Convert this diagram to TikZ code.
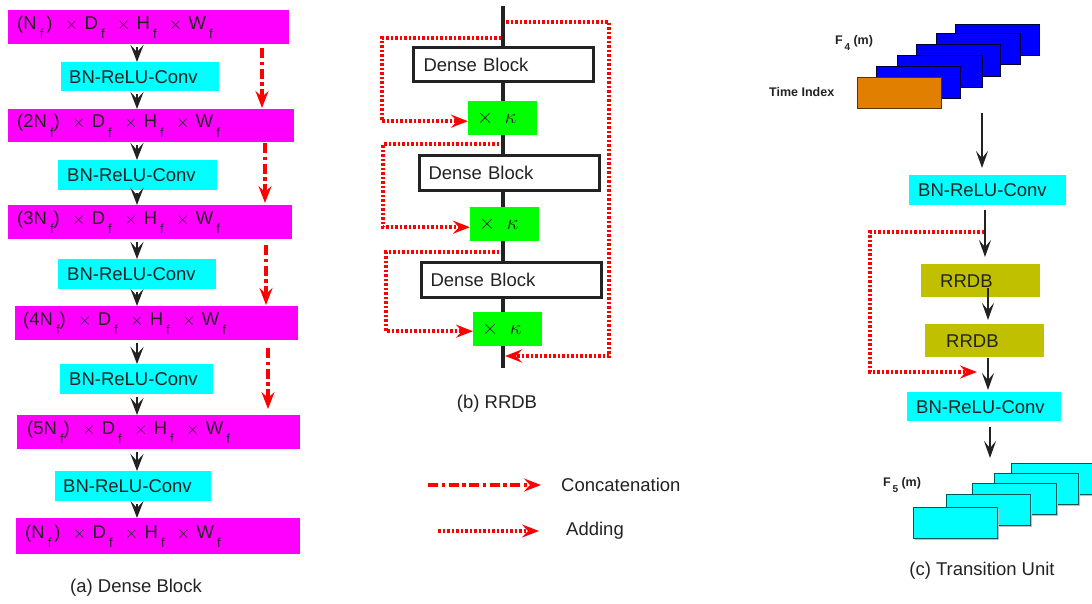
\documentclass[tikz,border=0pt]{standalone}
\usepackage{fontspec}
\setmainfont{Liberation Sans}
\usetikzlibrary{arrows.meta}
\definecolor{txt}{HTML}{222222}
\definecolor{mag}{HTML}{FF00FF}
\definecolor{cya}{HTML}{00FFFF}
\definecolor{grn}{HTML}{00FF00}
\definecolor{oli}{HTML}{C0C000}
\definecolor{blu}{HTML}{0000FF}
\definecolor{ora}{HTML}{E07F00}
\newcommand{\sbf}{\raisebox{-0.5em}{\fontsize{13}{13}\selectfont f}}
\newcommand{\dims}[1]{(#1\,\sbf)~~$\times$~D\,\sbf~~$\times$~H\,\sbf~~$\times$~W\,\sbf}
\newcommand{\dimsb}[1]{(#1\,\sbf\,)~~$\times$~D\,\sbf~~$\times$~H\,\sbf~~$\times$~W\,\sbf}
\begin{document}
\begin{tikzpicture}[x=1pt,y=-1pt,
  every node/.style={font=\fontsize{18.5}{20}\selectfont, text=txt, inner ysep=0pt},
  boxbase/.style={anchor=north west, align=left, inner ysep=0pt},
  magbox/.style={boxbase, fill=mag},
  cybox/.style={boxbase, fill=cya},
  grbox/.style={boxbase, fill=grn},
  olbox/.style={boxbase, fill=oli},
  dbbox/.style={boxbase, fill=white, draw=txt, line width=3pt},
  arr/.style={draw=txt, line width=2.4pt, -{Stealth[length=17pt,width=13pt,inset=7pt]}},
  thinarr/.style={draw=txt, line width=2pt, -{Stealth[length=17pt,width=12pt,inset=7pt]}},
  concat/.style={draw=red, line width=3.5pt, dash pattern=on 10pt off 3.5pt on 3.5pt off 3.5pt, -{Stealth[length=17pt,width=13pt,inset=6pt]}},
  addarr/.style={draw=red, line width=3.5pt, dash pattern=on 2.5pt off 2pt, -{Stealth[length=17pt,width=13pt,inset=6pt]}},
  spine/.style={draw=txt, line width=3.2pt},
  lbl/.style={font=\bfseries\fontsize{12.5}{13}\selectfont, anchor=west, inner sep=0pt},
  kap/.style={font=\fontsize{20}{22}\selectfont},
  capt/.style={font=\fontsize{18.5}{20}\selectfont}
]
\useasboundingbox (0,0) rectangle (1092,603);

% ---------------- (a) Dense Block ----------------
\node[magbox, minimum height=34pt, inner xsep=9pt, text width=263pt] (m1) at (8,10) {\dimsb{N}};
\node[cybox, minimum height=29pt, inner xsep=8pt, text width=142pt] (c1) at (61,62) {BN-ReLU-Conv};
\node[magbox, minimum height=33pt, inner xsep=9pt, text width=268pt] (m2) at (8,109) {\dims{2N}};
\node[cybox, minimum height=30pt, inner xsep=9pt, text width=141pt] (c2) at (58,160) {BN-ReLU-Conv};
\node[magbox, minimum height=34pt, inner xsep=9pt, text width=266pt] (m3) at (8,205) {\dims{3N}};
\node[cybox, minimum height=30pt, inner xsep=9pt, text width=140pt] (c3) at (58,259) {BN-ReLU-Conv};
\node[magbox, minimum height=34pt, inner xsep=8pt, text width=267pt] (m4) at (15,306) {\dims{4N}};
\node[cybox, minimum height=30pt, inner xsep=9pt, text width=135pt] (c4) at (60,364) {BN-ReLU-Conv};
\node[magbox, minimum height=34pt, inner xsep=10pt, text width=263pt] (m5) at (17,415) {\dims{5N}};
\node[cybox, minimum height=30pt, inner xsep=8pt, text width=140pt] (c5) at (55,471) {BN-ReLU-Conv};
\node[magbox, minimum height=36pt, inner xsep=9pt, text width=266pt] (m6) at (16,518) {\dimsb{N}};

\coordinate (ax) at (137,0);
\draw[arr, shorten <=3pt] (ax |- m1.south) -- (ax |- c1.north);
\draw[arr, shorten <=3pt] (ax |- c1.south) -- (ax |- m2.north);
\draw[arr, shorten <=3pt] (ax |- m2.south) -- (ax |- c2.north);
\draw[arr, shorten <=3pt] (ax |- c2.south) -- (ax |- m3.north);
\draw[arr, shorten <=3pt] (ax |- m3.south) -- (ax |- c3.north);
\draw[arr, shorten <=3pt] (ax |- c3.south) -- (ax |- m4.north);
\draw[arr, shorten <=3pt] (ax |- m4.south) -- (ax |- c4.north);
\draw[arr, shorten <=3pt] (ax |- c4.south) -- (ax |- m5.north);
\draw[arr, shorten <=3pt] (ax |- m5.south) -- (ax |- c5.north);
\draw[arr, shorten <=3pt] (ax |- c5.south) -- (ax |- m6.north);

\coordinate (r1) at (262,0);
\coordinate (r2) at (265,0);
\coordinate (r3) at (266,0);
\coordinate (r4) at (268,0);
\draw[concat, shorten <=4pt, shorten >=1pt] (r1 |- m1.south) -- (r1 |- m2.north);
\draw[concat, shorten <=1pt, shorten >=2pt] (r2 |- m2.south) -- (r2 |- m3.north);
\draw[concat, shorten <=6pt, shorten >=1pt] (r3 |- m3.south) -- (r3 |- m4.north);
\draw[concat, shorten <=8pt, shorten >=6pt] (r4 |- m4.south) -- (r4 |- m5.north);

\node[capt] (capa) at (136,588) {(a) Dense Block};

% ---------------- (b) RRDB ----------------
\node[dbbox, minimum height=34pt, inner xsep=10pt, text width=160pt] (d1) at (412,46) {Dense Block};
\node[grbox, kap, minimum height=34pt, inner xsep=9pt, text width=51pt] (g1) at (468,101) {$\times\;\;\kappa$};
\node[dbbox, minimum height=35pt, inner xsep=9pt, text width=162pt] (d2) at (418,154) {Dense Block};
\node[grbox, kap, minimum height=34pt, inner xsep=9pt, text width=51pt] (g2) at (470,207) {$\times\;\;\kappa$};
\node[dbbox, minimum height=35pt, inner xsep=9pt, text width=162pt] (d3) at (420,261) {Dense Block};
\node[grbox, kap, minimum height=34pt, inner xsep=9pt, text width=51pt] (g3) at (473,312) {$\times\;\;\kappa$};

\coordinate (sx) at (503,0);
\coordinate (stop) at (503,6);
\coordinate (sbot) at (503,368);
\draw[spine] (stop) -- (sx |- d1.north);
\draw[spine] (sx |- d1.south) -- (sx |- g1.north);
\draw[spine] (sx |- g1.south) -- (sx |- d2.north);
\draw[spine] (sx |- d2.south) -- (sx |- g2.north);
\draw[spine] (sx |- g2.south) -- (sx |- d3.north);
\draw[spine] (sx |- d3.south) -- (sx |- g3.north);
\draw[spine] (sx |- g3.south) -- (sbot);

\coordinate (t1) at (501,38);
\coordinate (k1) at (382,0);
\draw[addarr] (t1) -| ([yshift=-3pt]k1 |- g1.west) -- ([yshift=-3pt]g1.west);
\coordinate (t2) at (499,144);
\coordinate (k2) at (383,0);
\draw[addarr] (t2) -| ([yshift=-3pt]k2 |- g2.west) -- ([yshift=-3pt]g2.west);
\coordinate (t3) at (499,252);
\coordinate (k3) at (386,0);
\draw[addarr] (t3) -| ([yshift=-2pt]k3 |- g3.west) -- ([yshift=-2pt]g3.west);
\coordinate (t0) at (506,22);
\coordinate (k0) at (609,0);
\coordinate (e0) at (505,356);
\draw[addarr] (t0) -| (k0 |- e0) -- (e0);

\node[capt] (capb) at (497,404) {(b) RRDB};

% legend
\node[anchor=west, inner sep=0pt] (lcat) at (561,485) {Concatenation};
\node[anchor=west, inner sep=0pt] (ladd) at (566,531) {Adding};
\coordinate (lc) at (428,485);
\coordinate (la) at (438,531);
\draw[concat, shorten >=20pt] (lc) -- (lcat.west);
\draw[addarr, shorten >=27pt] (la) -- (ladd.west);

% ---------------- (c) Transition Unit ----------------
\begin{scope}[draw=black!80!blue, line width=0.9pt]
\filldraw[fill=blu] (955,24) rectangle (1039,55);
\filldraw[fill=blu] (936,33) rectangle (1020,64);
\filldraw[fill=blu] (916,44) rectangle (1000,76);
\filldraw[fill=blu] (897,55) rectangle (982,87);
\filldraw[fill=blu] (876,66) rectangle (960,98);
\end{scope}
\filldraw[fill=ora, draw=ora!40!black, line width=1pt] (857,77) rectangle (941,108);

\node[lbl] (f4) at (835,43) {F\raisebox{-0.45em}{\fontsize{10}{10}\selectfont\,4}~(m)};
\node[lbl] (ti) at (769,92) {Time Index};

\node[cybox, minimum height=30pt, inner xsep=9pt, text width=139pt] (tc1) at (909,175) {BN-ReLU-Conv};
\node[olbox, minimum height=33pt, inner xsep=19pt, text width=81pt] (rr1) at (921,264) {RRDB};
\node[olbox, minimum height=33pt, inner xsep=21pt, text width=77pt] (rr2) at (925,324) {RRDB};
\node[cybox, minimum height=29pt, inner xsep=9pt, text width=136pt] (tc2) at (907,392) {BN-ReLU-Conv};

\coordinate (in1) at (982,113);
\draw[thinarr, shorten >=7pt] (in1) -- (in1 |- tc1.north);
\coordinate (x2) at (985,0);
\draw[thinarr, shorten <=5pt, shorten >=7pt] (x2 |- tc1.south) -- (x2 |- rr1.north);
\coordinate (x3) at (988,0);
\draw[thinarr, shorten <=-9pt, shorten >=4pt] (x3 |- rr1.south) -- (x3 |- rr2.north);
\draw[thinarr, shorten <=1pt, shorten >=2pt] (x3 |- rr2.south) -- (x3 |- tc2.north);
\coordinate (x5) at (990,0);
\coordinate (out5) at (990,458);
\draw[thinarr, shorten <=6pt] (x5 |- tc2.south) -- (out5);

\coordinate (q1) at (984,232);
\coordinate (q2) at (870,372);
\coordinate (q3) at (977,372);
\draw[addarr] (q1) -| (q2) -- (q3);

\begin{scope}[line width=0.9pt]
\foreach \x/\y in {1011/463, 994/473, 972/483, 946/494, 913/507} {
  \fill[black!25] (\x+2,\y+2) rectangle (\x+86,\y+33);
  \filldraw[fill=cya, draw=cya!35!black] (\x,\y) rectangle (\x+84,\y+31);
}
\end{scope}
\node[lbl] (f5) at (883,485) {F\raisebox{-0.45em}{\fontsize{10}{10}\selectfont\,5}~(m)};

\node[capt] (capc) at (982,571) {(c) Transition Unit};
\end{tikzpicture}
\end{document}
